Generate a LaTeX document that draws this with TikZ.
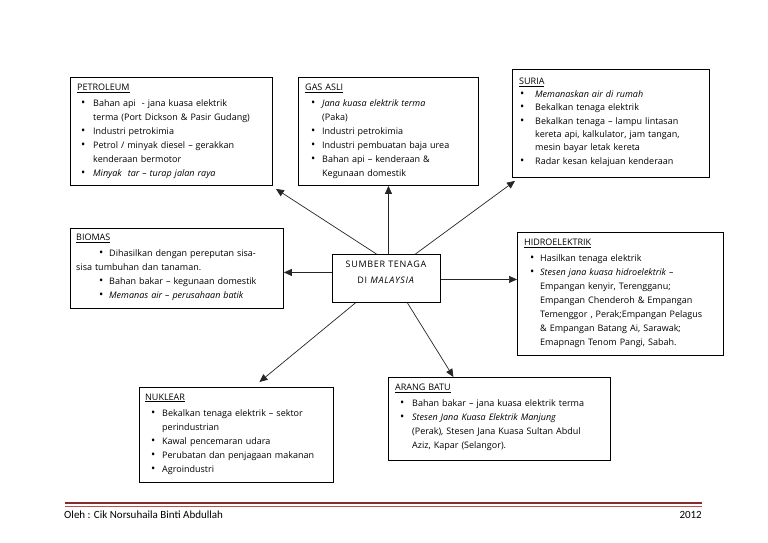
\documentclass[tikz,border=0pt]{standalone}
\usepackage{fontspec}
\setmainfont{Open Sans}
\newfontfamily\footfont{Carlito}
\newfontfamily\centfont[LetterSpace=8]{Open Sans}
\usetikzlibrary{arrows.meta,calc}
\newlength\bpos
\newlength\tpos
\newcommand{\bul}{\scalebox{1.25}{\textbullet}}
\newcommand{\itm}[1]{\par\noindent\makebox[\tpos][l]{\hspace*{\bpos}\bul}#1}
\newcommand{\cnt}[1]{\par\noindent\hspace*{\tpos}#1}
\newcommand{\ttl}[1]{\noindent\underline{#1}\par\vspace{2pt}}
\definecolor{footdark}{HTML}{8B2A2A}
\definecolor{footred}{HTML}{C0504D}
\begin{document}
\begin{tikzpicture}[x=1pt,y=-1pt,
  box/.style={draw=black, line width=0.9pt, inner sep=0pt, anchor=north west},
  txt/.style={anchor=north west, inner sep=0pt, align=left, text width=#1,
    font=\fontsize{9}{14}\selectfont},
  arr/.style={draw=black!85, line width=0.7pt, -{Triangle[length=8pt,width=7pt]}},
]
\useasboundingbox (0,0) rectangle (768,543);
\fill[white] (0,0) rectangle (768,543);

% boxes
\node[box, minimum width=202pt, minimum height=108pt] (petro) at (70,77) {};
\node[box, minimum width=180pt, minimum height=108pt] (gas) at (298,77) {};
\node[box, minimum width=197pt, minimum height=108pt] (suria) at (512,69) {};
\node[box, minimum width=213pt, minimum height=80pt] (biomas) at (70,228) {};
\node[box, minimum width=108pt, minimum height=48pt] (sumber) at (332,254) {};
\node[box, minimum width=206pt, minimum height=123pt] (hidro) at (517,232) {};
\node[box, minimum width=194pt, minimum height=95pt] (nuklear) at (139,387) {};
\node[box, minimum width=222pt, minimum height=83pt] (arang) at (388,377) {};

% texts
\node[txt=200pt] (tpetro) at (77,83.5) {\setlength\bpos{4pt}\setlength\tpos{16pt}%
\ttl{PETROLEUM}
\itm{Bahan api \ - jana kuasa elektrik}
\cnt{terma (Port Dickson \& Pasir Gudang)}
\itm{Industri petrokimia}
\itm{Petrol / minyak diesel – gerakkan}
\cnt{kenderaan bermotor}
\itm{\textit{Minyak \ tar – turap jalan raya}}};

\node[txt=180pt] (tgas) at (305,83.5) {\setlength\bpos{6pt}\setlength\tpos{17pt}%
\ttl{GAS ASLI}
\itm{\textit{Jana kuasa elektrik terma}}
\cnt{(Paka)}
\itm{Industri petrokimia}
\itm{Industri pembuatan baja urea}
\itm{Bahan api – kenderaan \&}
\cnt{Kegunaan domestik}};

\node[txt=200pt, font=\fontsize{9}{13.3}\selectfont] (tsuria) at (519,77.5) {\setlength\bpos{1pt}\setlength\tpos{16pt}%
\noindent\underline{SURIA}\par
\itm{\textit{Memanaskan air di rumah}}
\itm{Bekalkan tenaga elektrik}
\itm{Bekalkan tenaga – lampu lintasan}
\cnt{kereta api, kalkulator, jam tangan,}
\cnt{mesin bayar letak kereta}
\itm{Radar kesan kelajuan kenderaan}};

\node[txt=210pt] (tbiomas) at (76,233.5) {\setlength\bpos{23pt}\setlength\tpos{33pt}%
\ttl{BIOMAS}
\itm{Dihasilkan dengan pereputan sisa-}
\par\noindent sisa tumbuhan dan tanaman.
\itm{Bahan bakar – kegunaan domestik}
\itm{\textit{Memanas air – perusahaan batik}}};

\node[txt=205pt] (thidro) at (524,238.5) {\setlength\bpos{6pt}\setlength\tpos{16pt}%
\ttl{HIDROELEKTRIK}
\itm{Hasilkan tenaga elektrik}
\itm{\textit{Stesen jana kuasa hidroelektrik –}}
\cnt{Empangan kenyir, Terengganu;}
\cnt{Empangan Chenderoh \& Empangan}
\cnt{Temenggor , Perak;Empangan Pelagus}
\cnt{\& Empangan Batang Ai, Sarawak;}
\cnt{Emapnagn Tenom Pangi, Sabah.}};

\node[txt=195pt] (tnuklear) at (145,393.5) {\setlength\bpos{6pt}\setlength\tpos{17pt}%
\ttl{NUKLEAR}
\itm{Bekalkan tenaga elektrik – sektor}
\cnt{perindustrian}
\itm{Kawal pencemaran udara}
\itm{Perubatan dan penjagaan makanan}
\itm{Agroindustri}};

\node[txt=220pt] (tarang) at (395,383.5) {\setlength\bpos{5pt}\setlength\tpos{17pt}%
\ttl{ARANG BATU}
\itm{Bahan bakar – jana kuasa elektrik terma}
\itm{\textit{Stesen Jana Kuasa Elektrik Manjung}}
\cnt{(Perak), Stesen Jana Kuasa Sultan Abdul}
\cnt{Aziz, Kapar (Selangor).}};

\node[anchor=center, inner sep=0pt, align=center, font=\centfont\fontsize{9}{16}\selectfont] (tsumber) at (386,272)
{SUMBER TENAGA\\DI \textit{MALAYSIA}};

% connectors
\draw[arr] ([xshift=-10pt]sumber.north) -- ([xshift=3pt,yshift=-3pt]petro.south east);
\draw[arr] ([xshift=2pt]sumber.north) -- (gas.south);
\draw[arr] ([xshift=29pt]sumber.north) -- ([xshift=3pt,yshift=-3pt]suria.south west);
\draw[arr] ([yshift=6pt]sumber.west) -- ([yshift=-4pt]biomas.east);
\draw[arr] ([yshift=-1pt]sumber.east) -- ([yshift=14.5pt]hidro.west);
\draw[arr] ([xshift=-31pt]sumber.south) -- ([xshift=23pt,yshift=5pt]nuklear.north);
\draw[arr] ([xshift=21pt]sumber.south) -- ([xshift=-46pt]arang.north);

% footer
\coordinate (fl) at (65,503);
\coordinate (fr) at (702,503);
\draw[footdark, line width=1.6pt] (fl) -- (fr);
\draw[footred, line width=0.8pt] ([yshift=-3pt]fl) -- ([yshift=-3pt]fr);
\node[anchor=west, inner sep=0pt, font=\footfont\fontsize{11}{13}\selectfont] (oleh) at (64,515) {Oleh : Cik Norsuhaila Binti Abdullah};
\node[anchor=east, inner sep=0pt, font=\footfont\fontsize{11}{13}\selectfont] (year) at (702,515) {2012};
\end{tikzpicture}
\end{document}
